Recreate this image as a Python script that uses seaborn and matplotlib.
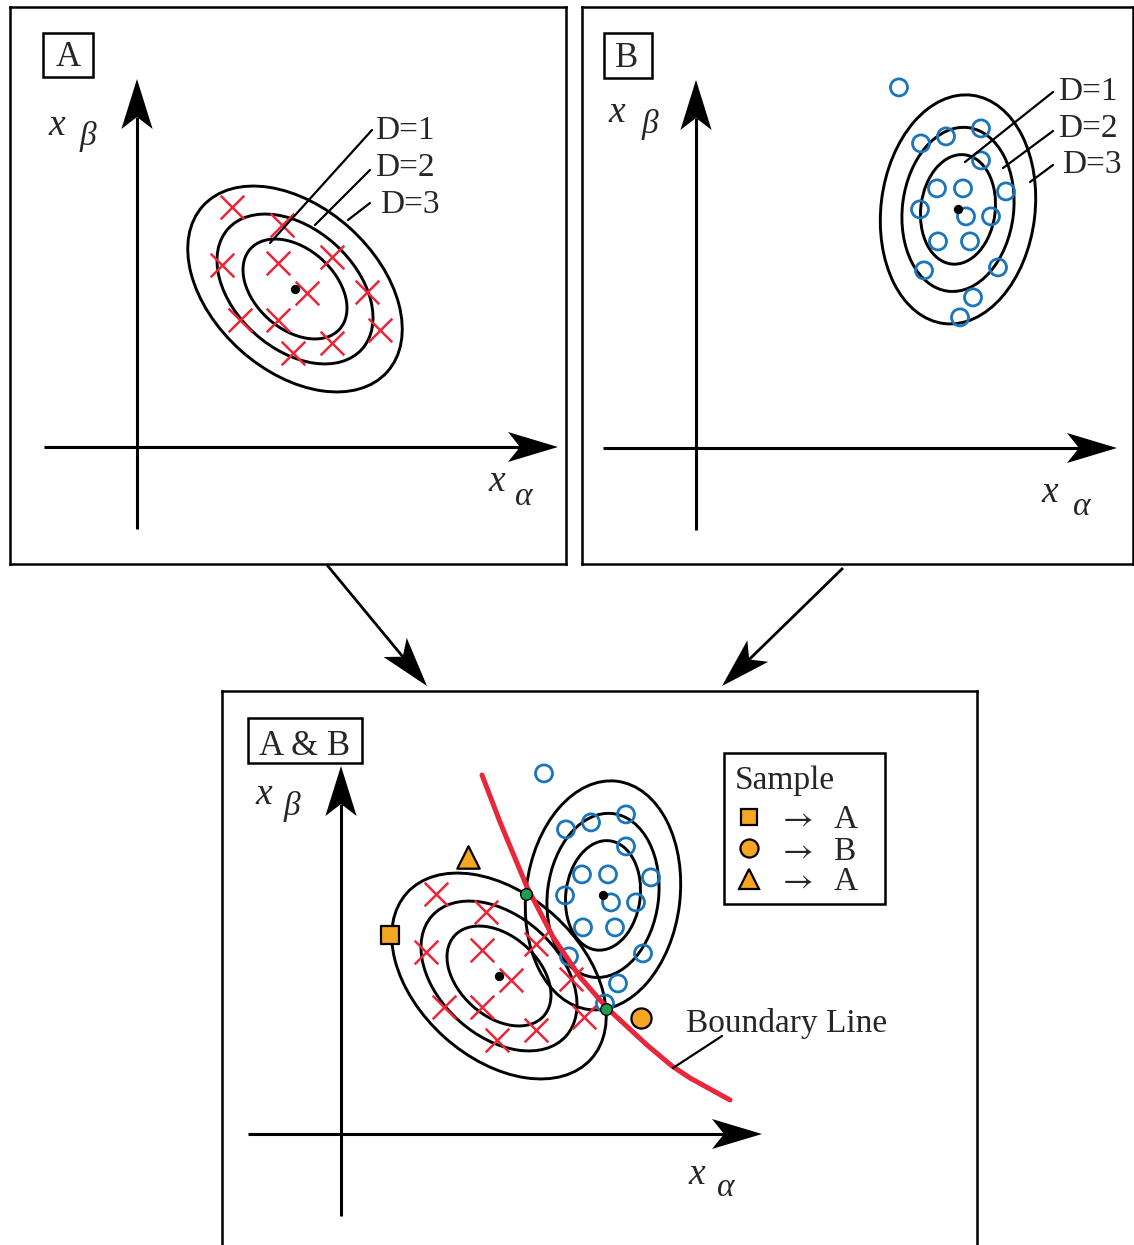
import numpy as np
import matplotlib
matplotlib.use("Agg")
import matplotlib.pyplot as plt
from matplotlib.patches import Ellipse, Polygon, Rectangle
from matplotlib.lines import Line2D
import seaborn as sns

sns.set_theme(style="white")
plt.rcParams["font.family"] = ["Liberation Serif", "DejaVu Serif"]
plt.rcParams["mathtext.fontset"] = "stix"

# ---------------------------------------------------------------- data
# class A training samples in the (x_alpha, x_beta) plane
a_x = [4.75, 7.25, 4.25, 7.05, 9.75, 8.5, 11.5, 5.15, 7.05, 12.15, 9.75, 7.8]
a_y = [12.0, 11.1, 9.1, 9.2, 9.5, 7.7, 7.75, 6.35, 6.35, 5.85, 5.2, 4.7]
a_mean = (7.9, 7.9)
# semi-axes (major, minor) of the D=1, D=2, D=3 contours and their tilt
a_contours = [(3.0, 2.0), (4.5, 3.0), (6.2, 4.1)]
a_angle = -42

# class B training samples
b_x = [10.15, 14.25, 11.25, 12.5, 14.25, 12.05, 13.35, 15.5, 11.2, 13.5,
       14.75, 12.1, 13.7, 11.4, 15.1, 13.85, 13.2]
b_y = [18.03, 15.98, 15.23, 15.58, 14.38, 12.98, 12.98, 12.83, 11.93, 11.58,
       11.58, 10.33, 10.33, 8.88, 9.03, 7.53, 6.53]
b_mean = (13.1, 11.93)
b_contours = [(2.75, 1.86), (4.12, 2.78), (5.75, 3.85)]
b_angle = 83

# unknown samples and the class they are assigned to
new_x = [2.45, 15.0, 6.35]
new_y = [9.95, 5.8, 13.85]
new_marker = ["s", "o", "^"]
new_class = ["A", "B", "A"]

# decision boundary between the two classes
bound_x = [7.05, 7.95, 9.3, 10.6, 11.95, 13.3, 15.3, 16.55, 17.45, 19.45]
bound_y = [17.95, 15.6, 12.35, 9.85, 7.85, 6.3, 4.45, 3.4, 2.8, 1.7]

RED = "#E8283A"
BLUE = "#1B75BB"
ORANGE = "#F5A623"
GREEN = "#1F9D55"

# ---------------------------------------------------------------- layout
W, H = 1134, 1245
fig = plt.figure(figsize=(W / 100, H / 100), dpi=100)
SCALE = 20.0  # pixels per unit of the feature plane


def panel(x0, y0, x1, y1, ox, oy, bottom_spine=True):
    ax = fig.add_axes([x0 / W, 1 - y1 / H, (x1 - x0) / W, (y1 - y0) / H])
    ax.set_xlim((x0 - ox) / SCALE, (x1 - ox) / SCALE)
    ax.set_ylim((oy - y1) / SCALE, (oy - y0) / SCALE)
    ax.set_xticks([])
    ax.set_yticks([])
    for sp in ax.spines.values():
        sp.set_color("black")
        sp.set_linewidth(1.8)
    if not bottom_spine:
        ax.spines["bottom"].set_visible(False)
    return ax


def arrow(ax, start, tip, length, half_width, notch, lw, z=3):
    start = np.asarray(start, float)
    tip = np.asarray(tip, float)
    u = (tip - start) / np.hypot(*(tip - start))
    n = np.array([-u[1], u[0]])
    base = tip - u * length
    back = tip - u * (length - notch)
    ax.plot([start[0], back[0]], [start[1], back[1]], color="black", lw=lw,
            solid_capstyle="butt", zorder=z)
    ax.add_patch(Polygon([tip, base + n * half_width, back, base - n * half_width],
                         closed=True, fc="black", ec="none", zorder=z))


def feature_axes(ax):
    arrow(ax, (0, -4.1), (0, 18.4), 2.5, 0.78, 0.6, 2.2)
    arrow(ax, (-4.65, 0), (21.05, 0), 2.5, 0.75, 0.6, 2.2)


def axis_labels(ax, xb, bb, xa, aa):
    ax.text(*xb, "x", fontsize=27, style="italic", ha="center", va="center")
    ax.text(*bb, "β", fontsize=24, style="italic", ha="center", va="center")
    ax.text(*xa, "x", fontsize=27, style="italic", ha="center", va="center")
    ax.text(*aa, "α", fontsize=24, style="italic", ha="center", va="center")


def contours(ax, mean, sizes, angle):
    for a, b in sizes:
        ax.add_patch(Ellipse(mean, 2 * a, 2 * b, angle=angle, fill=False,
                             ec="black", lw=2.1, zorder=2))


def class_a(ax):
    sns.scatterplot(x=a_x, y=a_y, marker="x", s=290, color=RED, linewidth=1.8,
                    ax=ax, zorder=3)
    sns.scatterplot(x=[a_mean[0]], y=[a_mean[1]], s=45, color="black",
                    linewidth=0, ax=ax, zorder=5)


def class_b(ax):
    sns.scatterplot(x=b_x, y=b_y, marker="o", s=150, color=BLUE, ax=ax, zorder=3)
    pts = ax.collections[-1]
    pts.set_facecolor("none")
    pts.set_edgecolor(BLUE)
    pts.set_linewidth(2.0)
    sns.scatterplot(x=[b_mean[0]], y=[b_mean[1]], s=45, color="black",
                    linewidth=0, ax=ax, zorder=5)


def outline(mean, a, b, angle, n=4000):
    t = np.linspace(0, 2 * np.pi, n, endpoint=False)
    th = np.deg2rad(angle)
    u = np.array([np.cos(th), np.sin(th)])
    v = np.array([-np.sin(th), np.cos(th)])
    return np.asarray(mean) + np.outer(a * np.cos(t), u) + np.outer(b * np.sin(t), v)


def level(p, mean, a, b, angle):
    th = np.deg2rad(angle)
    u = np.array([np.cos(th), np.sin(th)])
    v = np.array([-np.sin(th), np.cos(th)])
    d = p - np.asarray(mean)
    return (d @ u / a) ** 2 + (d @ v / b) ** 2 - 1


canvas = fig.add_axes([0, 0, 1, 1], zorder=10)
canvas.set_xlim(0, W)
canvas.set_ylim(H, 0)
canvas.axis("off")

# ---------------------------------------------------------------- panel A
axA = panel(10, 7, 566, 564, 137, 447)
feature_axes(axA)
contours(axA, a_mean, a_contours, a_angle)
class_a(axA)
axis_labels(axA, (-4.0, 16.05), (-2.45, 15.5), (18.0, -1.75), (19.35, -2.5))
for lbl, txt, start, end in [("D=1", (11.9, 15.38), (11.75, 15.85), (6.65, 10.2)),
                             ("D=2", (11.9, 13.53), (11.65, 13.85), (8.9, 11.1)),
                             ("D=3", (12.15, 11.68), (11.65, 12.2), (10.55, 11.35))]:
    axA.plot([start[0], end[0]], [start[1], end[1]], color="black", lw=1.6, zorder=4)
    axA.text(*txt, lbl, fontsize=24, ha="left", va="baseline")

# ---------------------------------------------------------------- panel B
axB = panel(582, 7, 1133, 564, 696, 448)
feature_axes(axB)
contours(axB, b_mean, b_contours, b_angle)
class_b(axB)
axis_labels(axB, (-3.95, 16.75), (-2.3, 16.2), (17.7, -2.25), (19.3, -2.95))
for lbl, txt, start, end in [("D=1", (18.1, 17.4), (17.85, 17.8), (13.45, 14.3)),
                             ("D=2", (18.1, 15.55), (17.85, 15.85), (15.35, 14.0)),
                             ("D=3", (18.3, 13.75), (17.85, 14.15), (16.7, 13.3))]:
    axB.plot([start[0], end[0]], [start[1], end[1]], color="black", lw=1.6, zorder=4)
    axB.text(*txt, lbl, fontsize=24, ha="left", va="baseline")

# ---------------------------------------------------------------- panel A & B
axC = panel(222, 691, 977, 1245, 341, 1134, bottom_spine=False)
feature_axes(axC)
contours(axC, a_mean, a_contours, a_angle)
contours(axC, b_mean, b_contours, b_angle)
class_a(axC)
class_b(axC)
sns.lineplot(x=bound_x, y=bound_y, sort=False, estimator=None, color=RED,
             linewidth=3.6, ax=axC, zorder=4)

# points where the two D=3 contours meet
ring = outline(a_mean, *a_contours[-1], a_angle)
vals = np.array([level(p, b_mean, *b_contours[-1], b_angle) for p in ring])
cross_pts = []
for i in range(len(ring)):
    j = (i + 1) % len(ring)
    if vals[i] * vals[j] < 0:
        f = vals[i] / (vals[i] - vals[j])
        cross_pts.append(ring[i] + f * (ring[j] - ring[i]))
cross_pts = np.array(cross_pts)
sns.scatterplot(x=cross_pts[:, 0], y=cross_pts[:, 1], s=70, color=GREEN,
                edgecolor="black", linewidth=1.0, ax=axC, zorder=6)

marker_size = {"s": 150, "o": 210, "^": 260}
for x, y, m in zip(new_x, new_y, new_marker):
    sns.scatterplot(x=[x], y=[y], marker=m, s=marker_size[m], color=ORANGE,
                    edgecolor="black", linewidth=1.6, ax=axC, zorder=6)

axis_labels(axC, (-3.85, 16.95), (-2.45, 16.4), (17.8, -2.05), (19.25, -2.7))
axC.plot([19.05, 16.6], [4.9, 3.3], color="black", lw=1.6, zorder=4)
axC.text(17.25, 5.1, "Boundary Line", fontsize=24, ha="left", va="baseline")

# sample key: framed box with a heading and one row per classified sample
legend_ms = {"s": 11.5, "o": 13, "^": 15}
handles = [Line2D([], [], ls="none", marker=m, ms=legend_ms[m], mfc=ORANGE,
                  mec="black", mew=1.6) for m in new_marker]
leg = axC.legend(handles, [r"$\rightarrow\;$ " + c for c in new_class],
                 loc="upper left", bbox_to_anchor=(735, 805),
                 bbox_transform=canvas.transData, borderaxespad=0,
                 frameon=False, prop={"size": 24}, borderpad=0,
                 handlelength=0.85, handletextpad=0.43, labelspacing=0.015)
canvas.add_patch(Rectangle((724, 753), 161, 151, fill=False, ec="black", lw=1.8))
canvas.text(735, 789, "Sample", fontsize=24, ha="left", va="baseline")

# ---------------------------------------------------------------- titles and flow arrows
for (x0, y0, x1, y1), label, (tx, ty) in [((43, 33, 93, 77), "A", (68, 66)),
                                          ((604, 33, 652, 78), "B", (627, 67)),
                                          ((248, 718, 362, 763), "A & B", (305, 755))]:
    canvas.add_patch(Rectangle((x0, y0), x1 - x0, y1 - y0, fill=False,
                               ec="black", lw=1.8))
    canvas.text(tx, ty, label, fontsize=25, ha="center", va="baseline")

arrow(canvas, (327, 565), (427, 686), 50, 15, 12, 2.0)
arrow(canvas, (843, 568), (722, 686), 50, 15, 12, 2.0)

fig.savefig("out.png", dpi=100)
